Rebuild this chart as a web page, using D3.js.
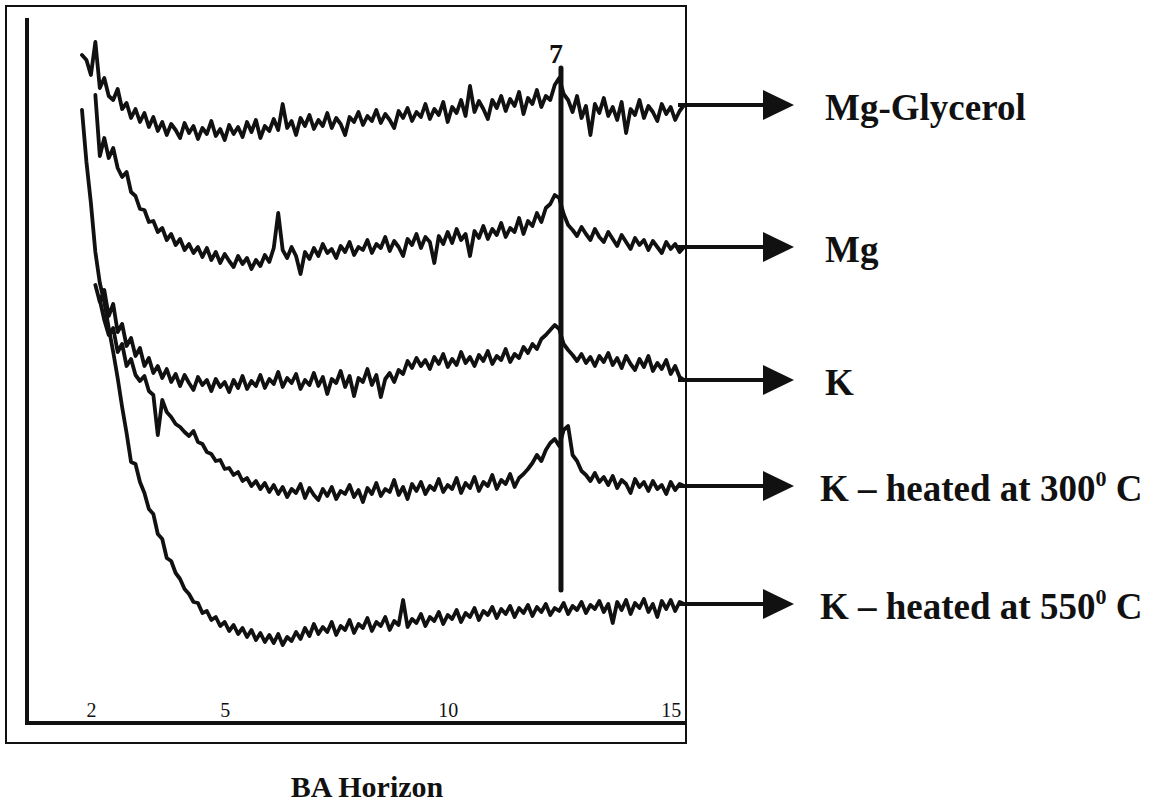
<!DOCTYPE html>
<html>
<head>
<meta charset="utf-8">
<script src="https://cdn.jsdelivr.net/npm/d3@7"></script>
<style>
  body { margin: 0; background: #fff; }
  svg { display: block; font-family: "Liberation Serif", "Times New Roman", serif; }
</style>
</head>
<body>
<div id="chart"></div>
<script>
/* XRD traces (2-theta in degrees, intensity in arbitrary units) */
const angleStep = 0.1

const mgGlycerol = [663, 658, 643, 676, 630, 640, 622, 618, 629, 609, 615, 600, 609, 596, 605, 591, 601, 587, 596, 583,
  594, 588, 580, 595, 585, 592, 579, 590, 584, 597, 582, 589, 578, 593, 584, 591, 581, 596, 586, 598,
  580, 592, 587, 599, 588, 614, 590, 597, 583, 600, 592, 603, 589, 598, 592, 605, 590, 600, 594, 583,
  601, 596, 606, 593, 602, 597, 608, 595, 604, 598, 590, 607, 600, 610, 597, 606, 601, 614, 599, 609,
  603, 616, 596, 611, 605, 618, 602, 632, 606, 617, 609, 599, 618, 610, 622, 607, 619, 612, 626, 604,
  620, 614, 628, 611, 622, 618, 633, 640, 624, 618, 606, 622, 600, 612, 583, 614, 605, 620, 602, 611,
  598, 616, 585, 609, 603, 618, 600, 612, 606, 597, 614, 604, 611, 598, 607, 613]

const mg = [623, 562, 580, 560, 570, 550, 541, 546, 526, 522, 509, 508, 496, 497, 486, 490, 478, 484, 473, 479,
  468, 474, 465, 471, 461, 470, 458, 466, 455, 464, 457, 451, 462, 454, 460, 449, 458, 452, 463, 456,
  470, 505, 468, 460, 471, 462, 444, 466, 459, 470, 462, 474, 465, 469, 460, 472, 466, 476, 463, 471,
  468, 478, 465, 474, 470, 481, 467, 477, 471, 462, 479, 473, 484, 470, 481, 476, 455, 482, 474, 486,
  475, 489, 478, 484, 462, 487, 480, 492, 479, 489, 483, 495, 481, 490, 486, 500, 484, 497, 492, 505,
  496, 510, 514, 523, 520, 504, 493, 488, 482, 491, 484, 478, 489, 481, 476, 486, 479, 472, 483, 476,
  469, 480, 473, 478, 468, 477, 471, 465, 476, 469, 474, 466, 471]

const kSaturated = [433, 416, 428, 402, 414, 386, 394, 372, 380, 362, 370, 352, 360, 345, 352, 340, 349, 336, 344, 332,
  343, 335, 328, 341, 333, 338, 327, 339, 331, 336, 326, 338, 330, 342, 329, 337, 332, 343, 330, 339,
  334, 346, 331, 340, 335, 344, 329, 338, 333, 345, 332, 341, 324, 339, 335, 347, 331, 342, 322, 340,
  336, 349, 333, 343, 321, 339, 345, 336, 348, 344, 357, 350, 360, 352, 358, 349, 361, 354, 364, 351,
  359, 353, 366, 355, 361, 352, 363, 357, 367, 354, 362, 358, 369, 356, 364, 360, 371, 365, 374, 369,
  379, 383, 388, 393, 389, 374, 368, 363, 357, 364, 355, 361, 352, 362, 356, 365, 353, 360, 350, 362,
  354, 348, 359, 351, 362, 347, 355, 349, 358, 344, 352, 341, 338]

const k300 = [418, 398, 383, 390, 366, 374, 352, 359, 343, 337, 342, 327, 323, 283, 318, 306, 301, 294, 291, 286,
  282, 287, 276, 274, 266, 264, 257, 258, 249, 250, 243, 246, 237, 240, 232, 237, 229, 235, 226, 233,
  224, 231, 221, 229, 225, 234, 220, 230, 223, 218, 229, 222, 231, 219, 227, 224, 233, 221, 228, 216,
  230, 224, 235, 222, 229, 226, 238, 223, 231, 219, 234, 227, 236, 224, 232, 228, 239, 226, 233, 229,
  240, 225, 235, 230, 241, 227, 236, 232, 243, 229, 238, 234, 244, 231, 240, 244, 249, 255, 263, 257,
  268, 275, 279, 272, 288, 292, 263, 257, 247, 243, 237, 245, 236, 241, 233, 242, 230, 238, 234, 225,
  239, 231, 236, 227, 237, 229, 233, 224, 236, 228, 234, 232]

const k550 = [608, 556, 515, 466, 435, 416, 390, 366, 340, 311, 285, 256, 254, 236, 225, 209, 204, 184, 179, 160,
  157, 145, 139, 129, 124, 116, 115, 105, 107, 98, 101, 92, 96, 87, 93, 84, 90, 81, 88, 78,
  85, 76, 83, 75, 84, 73, 81, 77, 86, 79, 90, 82, 94, 84, 91, 86, 96, 83, 92, 88,
  98, 85, 94, 90, 100, 87, 96, 92, 101, 88, 97, 93, 118, 91, 99, 95, 104, 92, 101, 97,
  106, 94, 103, 99, 108, 96, 105, 101, 110, 98, 107, 103, 111, 100, 109, 104, 112, 101, 110, 105,
  113, 102, 111, 106, 114, 103, 110, 107, 115, 104, 112, 108, 116, 105, 113, 109, 117, 106, 114, 95,
  116, 108, 118, 104, 115, 110, 119, 106, 114, 101, 117, 109, 118, 107, 116, 114]

const seriesValues = [mgGlycerol, mg, kSaturated, k300, k550]
const seriesStart = [1.8, 2.1, 2.1, 2.2, 1.8]
const seriesLabels = ["Mg-Glycerol", "Mg", "K", "K \u2013 heated at 300", "K \u2013 heated at 550"]
const seriesSup = ["", "", "", "0", "0"]
const seriesSuffix = ["", "", "", " C", " C"]

const tickValues = [2, 5, 10, 15]
const peakAngle = 12.54
const peakLabel = "7"
const title = "BA Horizon"

const width = 1159
const height = 805

const svg = d3.select("#chart").append("svg")
    .attr("width", width)
    .attr("height", height)

const x = d3.scaleLinear().domain([0, 15]).range([1.7, 670.7])
const y = d3.scaleLinear().domain([0, 700]).range([718, 18])

// frame
svg.append("rect")
    .attr("x", 6).attr("y", 6)
    .attr("width", 680).attr("height", 737)
    .attr("fill", "none")
    .attr("stroke", "#111")
    .attr("stroke-width", 2)

svg.append("line")
    .attr("x1", 27).attr("x2", 27)
    .attr("y1", 18).attr("y2", 724)
    .attr("stroke", "#111")
    .attr("stroke-width", 4)

svg.append("line")
    .attr("x1", 25).attr("x2", 686)
    .attr("y1", 723).attr("y2", 723)
    .attr("stroke", "#111")
    .attr("stroke-width", 4)

// tick labels
const axis = svg.append("g")
    .attr("transform", "translate(0,717)")
    .call(d3.axisBottom(x).tickValues(tickValues).tickSize(0).tickFormat(d3.format("d")))

axis.select(".domain").remove()
axis.selectAll("text")
    .attr("y", 0)
    .attr("dy", 0)
    .attr("fill", "#111")
    .style("font-family", "'Liberation Serif', serif")
    .style("font-size", "20px")

// traces
const line = d3.line()
    .x(d => x(d[0]))
    .y(d => y(d[1]))

seriesValues.forEach((values, i) => {
  const points = values.map((v, j) => [seriesStart[i] + j * angleStep, v])
  svg.append("path")
      .datum(points)
      .attr("d", line)
      .attr("fill", "none")
      .attr("stroke", "#111")
      .attr("stroke-width", 3.8)
      .attr("stroke-linejoin", "round")
      .attr("stroke-linecap", "round")
})

// 7 A reflection marker
svg.append("line")
    .attr("x1", x(peakAngle)).attr("x2", x(peakAngle))
    .attr("y1", 68).attr("y2", 590)
    .attr("stroke", "#111")
    .attr("stroke-width", 5)
    .attr("stroke-linecap", "round")

svg.append("text")
    .attr("x", x(peakAngle) - 5)
    .attr("y", 63)
    .attr("text-anchor", "middle")
    .attr("font-weight", "bold")
    .attr("font-size", 28)
    .attr("fill", "#111")
    .text(peakLabel)

// arrows + labels
seriesValues.forEach((values, i) => {
  const ay = y(values[values.length - 1])
  svg.append("line")
      .attr("x1", 678).attr("x2", 766)
      .attr("y1", ay).attr("y2", ay)
      .attr("stroke", "#111")
      .attr("stroke-width", 4)
  svg.append("path")
      .attr("d", `M763,${ay - 15}L794,${ay}L763,${ay + 15}Z`)
      .attr("fill", "#111")

  const t = svg.append("text")
      .attr("x", i < 3 ? 825 : 820)
      .attr("y", ay + 15)
      .attr("font-weight", "bold")
      .attr("font-size", 37)
      .attr("fill", "#111")
      .text(seriesLabels[i])
  if (seriesSup[i]) {
    t.append("tspan")
        .attr("dy", -15)
        .attr("font-size", 22)
        .text(seriesSup[i])
    t.append("tspan")
        .attr("dy", 15)
        .text(seriesSuffix[i])
  }
})

svg.append("text")
    .attr("x", 367)
    .attr("y", 797)
    .attr("text-anchor", "middle")
    .attr("font-weight", "bold")
    .attr("font-size", 30)
    .attr("fill", "#111")
    .text(title)
</script>
</body>
</html>
